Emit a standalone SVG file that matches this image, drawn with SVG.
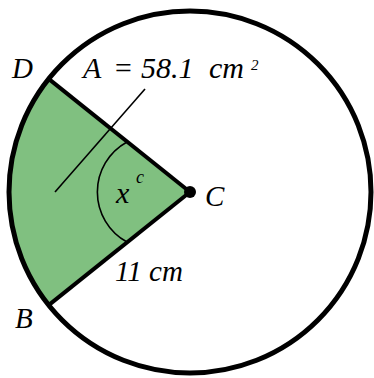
<svg xmlns="http://www.w3.org/2000/svg" width="374" height="378" viewBox="0 0 374 378">
<rect width="374" height="378" fill="#fff"/>
<g id="sector">
<path d="M190,192 L48.7,78.9 A181,181 0 0 0 48.7,305.1 Z" fill="#80c080"/>
</g>
<g id="connectors" fill="none" stroke="#000">
<line stroke-width="4" x1="190" y1="192" x2="48.7" y2="78.9"/>
<line stroke-width="4" x1="190" y1="192" x2="48.7" y2="305.1"/>
<path stroke-width="1.6" d="M127,142 A57,57 0 0 0 127,242"/>
<line stroke-width="1.6" x1="145" y1="89" x2="55" y2="192"/>
</g>
<g id="circle">
<circle cx="190" cy="192" r="181" fill="none" stroke="#000" stroke-width="5"/>
</g>
<g id="C">
<circle cx="190" cy="192" r="6" fill="#000"/>
</g>
<text x="205" y="206" font-size="29" font-family="Liberation Serif" font-style="italic">C</text>
<text x="12" y="78" font-size="29" font-family="Liberation Serif" font-style="italic">D</text>
<text x="15" y="328" font-size="29" font-family="Liberation Serif" font-style="italic">B</text>
<text x="83" y="78" font-size="30" font-family="Liberation Serif" font-style="italic">A</text>
<text x="113" y="78" font-size="30" font-family="Liberation Serif" font-style="italic">=</text>
<text x="141" y="78" font-size="30" font-family="Liberation Serif" font-style="italic">58.1</text>
<text x="209" y="78" font-size="30" font-family="Liberation Serif" font-style="italic">cm</text>
<text x="251" y="70" font-size="15" font-family="Liberation Serif" font-style="italic">2</text>
<text x="116" y="203" font-size="30" font-family="Liberation Serif" font-style="italic">x</text>
<text x="136" y="183" font-size="18" font-family="Liberation Serif" font-style="italic">c</text>
<text x="115" y="281" font-size="29" font-family="Liberation Serif" font-style="italic">11 cm</text>
</svg>
